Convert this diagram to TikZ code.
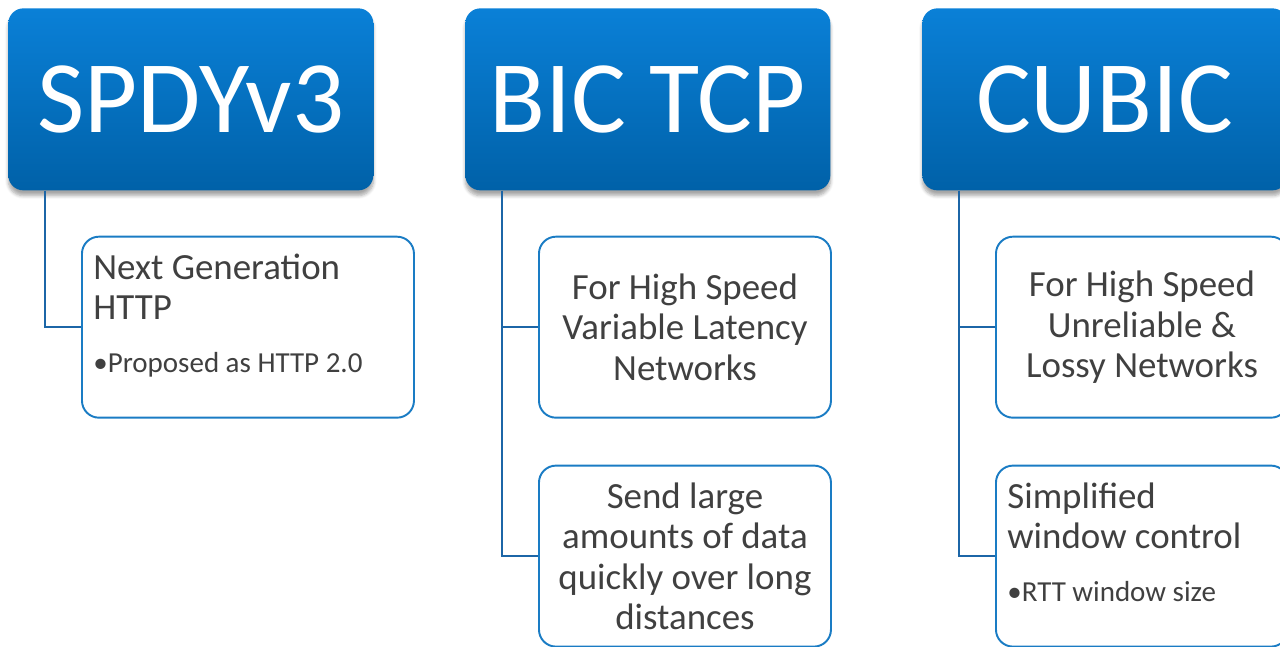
\documentclass[tikz,border=0pt]{standalone}
\usepackage{fontspec}
\setmainfont{Carlito}
\definecolor{headtop}{HTML}{0A80D7}
\definecolor{headbot}{HTML}{0061A8}
\definecolor{leafline}{HTML}{1A7CC4}
\definecolor{linkline}{HTML}{1C66A7}
\definecolor{leaftext}{HTML}{404040}
\usetikzlibrary{positioning, shadows.blur}

\begin{document}
\begin{tikzpicture}[
  head/.style={rounded corners=0.3cm, top color=headtop, bottom color=headbot,
    minimum width=7.3cm, minimum height=3.64cm, inner sep=0pt, text=white,
    font=\fontsize{58.5}{62}\selectfont, anchor=north west,
    blur shadow={shadow xshift=0pt, shadow yshift=-3pt, shadow blur steps=6, shadow opacity=35}},
  leaf/.style={draw=leafline, line width=1.1pt, rounded corners=0.34cm, fill=white,
    minimum height=3.62cm, inner sep=0pt, text=leaftext, align=center,
    font=\fontsize{21}{23}\selectfont},
  note/.style={inner sep=0pt, anchor=north west, text=leaftext, align=left,
    font=\fontsize{21}{23}\selectfont},
  link/.style={draw=linkline, line width=1.1pt}
]
\clip (0,0) rectangle (25.6,-12.92);

% headers
\node[head] (spdy) at (0.16,-0.16) {SPDYv3};
\node[head] (bic) at (9.30,-0.16) {BIC TCP};
\node[head] (cubic) at (18.44,-0.16) {CUBIC};

% SPDYv3
\node[leaf, minimum width=6.64cm, anchor=north west] (spdyA) at ([shift={(1.46,-0.90)}]spdy.south west) {};
\node[note] (spdyAtext) at ([shift={(0.24,-0.35)}]spdyA.north west)
  {Next Generation\\HTTP\\[7pt]{\fontsize{16.5}{19}\selectfont •Proposed as HTTP 2.0}};

% BIC TCP
\node[leaf, minimum width=5.84cm, anchor=north west] (bicA) at ([shift={(1.46,-0.90)}]bic.south west)
  {For High Speed\\Variable Latency\\Networks};
\node[leaf, minimum width=5.84cm, below=0.92cm of bicA] (bicB)
  {Send large\\amounts of data\\quickly over long\\distances};

% CUBIC
\node[leaf, minimum width=5.84cm, anchor=north west] (cubicA) at ([shift={(1.46,-0.90)}]cubic.south west)
  {For High Speed\\Unreliable \&\\Lossy Networks};
\node[leaf, minimum width=5.84cm, below=0.92cm of cubicA] (cubicB) {};
\node[note] (cubicBtext) at ([shift={(0.24,-0.35)}]cubicB.north west)
  {Simplified\\window control\\[7pt]{\fontsize{16.5}{19}\selectfont •RTT window size}};

% connectors
\coordinate (spdyStem) at ([xshift=0.74cm]spdy.south west);
\coordinate (bicStem) at ([xshift=0.74cm]bic.south west);
\coordinate (cubicStem) at ([xshift=0.74cm]cubic.south west);
\draw[link] (spdyStem) |- (spdyA.west);
\draw[link] (bicStem) |- (bicA.west);
\draw[link] (bicStem) |- (bicB.west);
\draw[link] (cubicStem) |- (cubicA.west);
\draw[link] (cubicStem) |- (cubicB.west);
\end{tikzpicture}
\end{document}
